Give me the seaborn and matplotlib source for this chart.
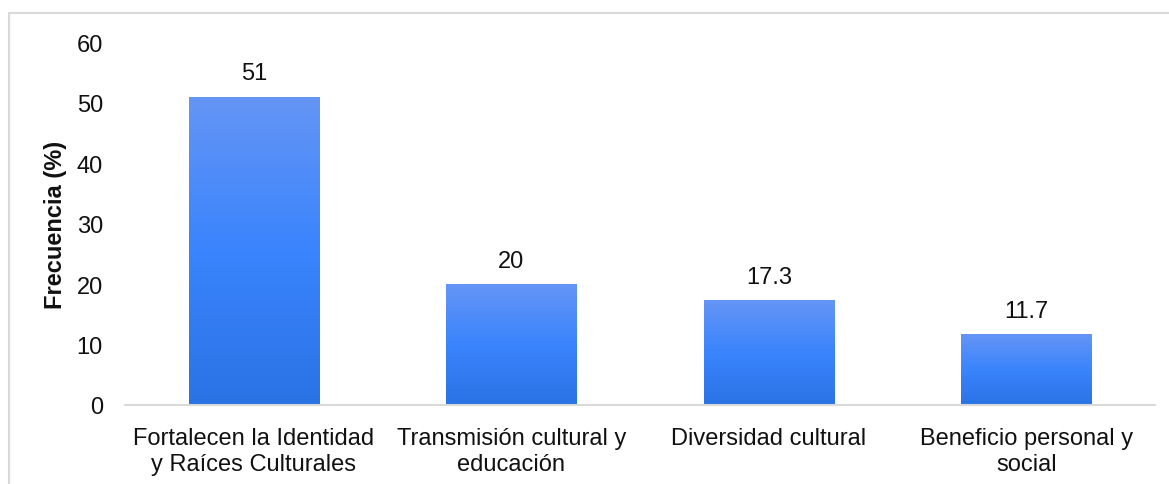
import seaborn as sns
import matplotlib.pyplot as plt
import matplotlib.colors as mcolors
from matplotlib.lines import Line2D
import numpy as np
import pandas as pd


categorias = [
    "Fortalecen la Identidad\ny Raíces Culturales",
    "Transmisión cultural y\neducación",
    "Diversidad cultural",
    "Beneficio personal y\nsocial",
]
frecuencia = [51, 20, 17.3, 11.7]
etiquetas = ["51", "20", "17.3", "11.7"]

df = pd.DataFrame({"Categoria": categorias, "Frecuencia": frecuencia})

sns.set_theme(style="white")
plt.rcParams["font.family"] = ["Liberation Sans", "DejaVu Sans"]

fig = plt.figure(figsize=(11.69, 4.85), dpi=100)
ax = fig.add_axes([0.107, 0.163, 0.881, 0.748])

sns.barplot(data=df, x="Categoria", y="Frecuencia", color="#3D85FE",
            width=0.505, saturation=1, ax=ax)

# degradado vertical en cada barra
grad = mcolors.LinearSegmentedColormap.from_list(
    "azul", ["#2A73E5", "#3A84FD", "#6595F5"])
g = np.linspace(0, 1, 256).reshape(-1, 1)
for bar in ax.patches:
    x0, y0 = bar.get_x(), bar.get_y()
    w, h = bar.get_width(), bar.get_height()
    im = ax.imshow(g, cmap=grad, aspect="auto", origin="lower",
                   extent=[x0, x0 + w, y0, y0 + h], zorder=bar.get_zorder() + 0.1)
    im.set_clip_path(bar)

for bar, txt in zip(ax.patches, etiquetas):
    ax.annotate(txt, (bar.get_x() + bar.get_width() / 2, bar.get_height()),
                xytext=(0, 9), textcoords="offset points",
                ha="center", va="bottom", fontsize=17, color="#111111")

ax.set_xlim(-0.5, 3.5)
ax.set_ylim(0, 60)
ax.set_yticks(range(0, 61, 10))
ax.tick_params(axis="y", length=0, pad=16, labelsize=17, colors="#111111")
ax.tick_params(axis="x", length=0, pad=16, labelsize=17, colors="#111111")
for lbl in ax.get_xticklabels():
    lbl.set_linespacing(1.2)
ax.set_xlabel("")
ax.set_ylabel("Frecuencia (%)", fontsize=17, fontweight="bold", labelpad=7,
              color="#111111")

sns.despine(ax=ax, left=True)
ax.spines["bottom"].set_color("#D9D9D9")
ax.spines["bottom"].set_linewidth(1.5)

# marco exterior (solo visible arriba e izquierda)
fig.add_artist(Line2D([0.0077, 1.0], [0.972, 0.972], color="#D9D9D9", lw=1.5,
                      transform=fig.transFigure))
fig.add_artist(Line2D([0.0077, 0.0077], [0.0, 0.972], color="#D9D9D9", lw=1.5,
                      transform=fig.transFigure))

fig.savefig("out.png", dpi=100)
